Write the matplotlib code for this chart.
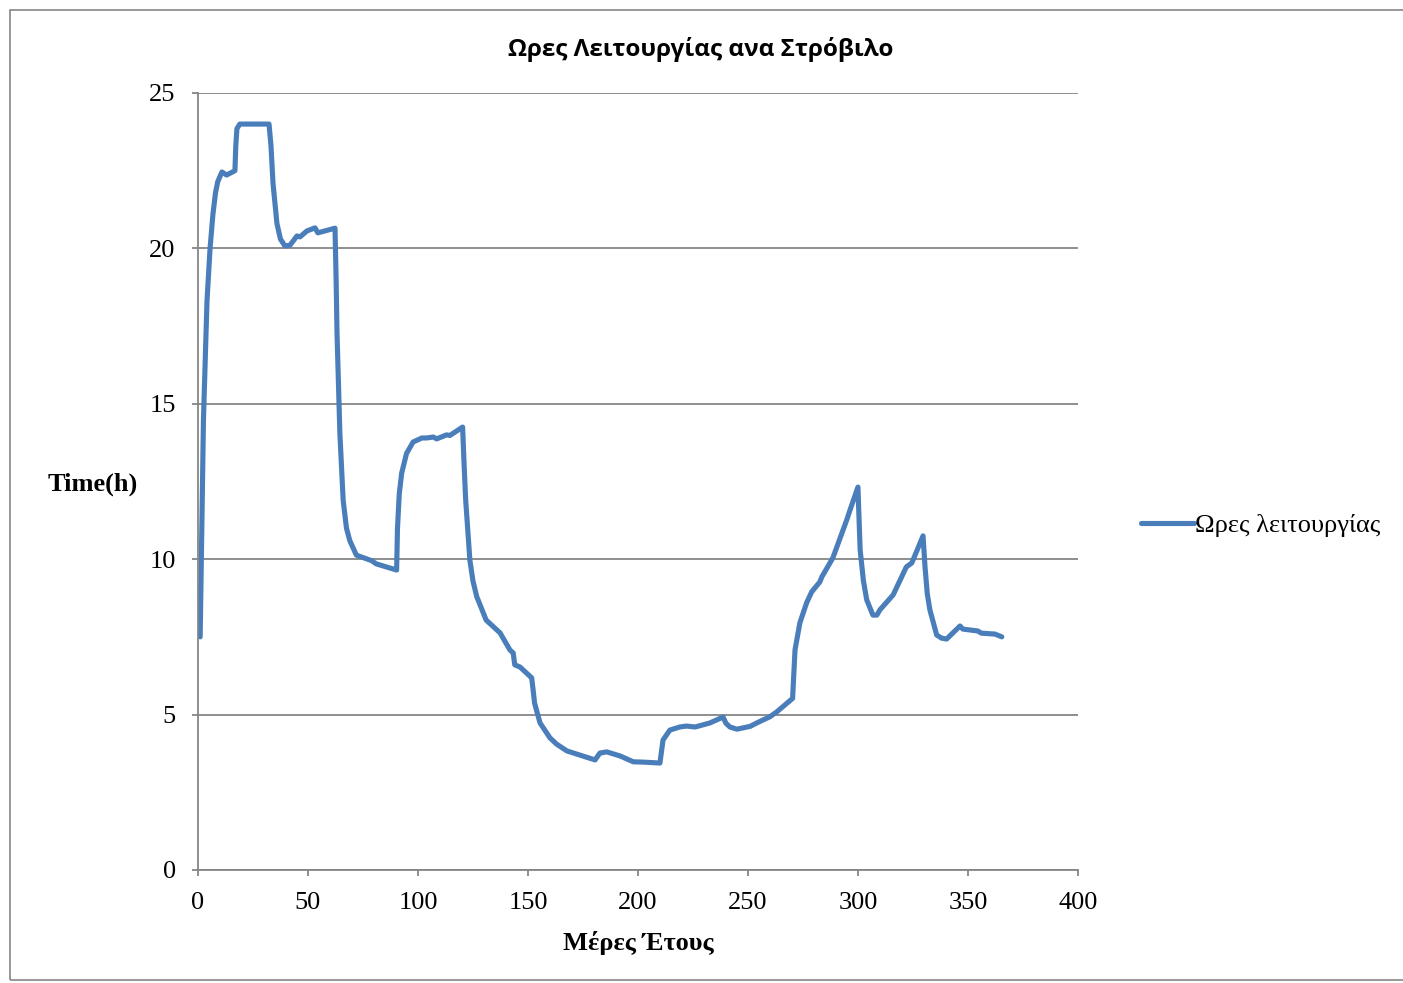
import matplotlib.pyplot as plt
from matplotlib.patches import Rectangle

# values
days = [1, 2.5, 4.1, 5.5, 6.8, 8, 9, 10.9, 13, 16.8, 17.2, 17.7, 19, 32.3, 33.2, 34.1, 35.9, 37.5, 39.5, 41.8,
        45, 46.4, 49.5, 53.2, 54.5, 62.3, 62.8, 63.2, 64.5, 66, 67.5, 69, 72, 79, 81, 90.3,
        90.7, 91.5, 92.6, 94.8, 97.8, 101.8, 104, 107, 108.5, 113, 114.5, 120.3,
        121, 121.7, 123.6, 125, 126.7, 131, 137.3, 141.8, 143.3, 144, 146.4, 151.7, 152.5, 153, 155.5,
        160, 163, 167.7, 180.5, 182.7, 185.8, 191.8, 197.9, 202.4, 210,
        211.4, 214.5, 219, 222, 226, 232.7, 238.7, 240, 241.8, 245, 251, 254, 260, 263,
        270.3, 271.4, 273.6, 276.7, 279, 282.7, 283.6, 288.6, 294.9, 296.4, 300,
        301, 302.5, 304, 306.8, 308.6, 310, 316, 322, 324.5, 329.6,
        330.5, 331.5, 332.7, 335.8, 338, 340.3, 346.4, 347.7, 354.5, 356, 362.3, 365.4]
hours = [7.5, 14.5, 18.3, 20.0, 21.1, 21.8, 22.15, 22.46, 22.36, 22.5, 23.3, 23.85, 24.0, 24.0, 23.3, 22.1, 20.8, 20.3, 20.08, 20.1,
         20.4, 20.37, 20.56, 20.66, 20.5, 20.65, 19.0, 17.3, 14.06, 11.9, 11.0, 10.6, 10.13, 9.95, 9.85, 9.65,
         11.0, 12.1, 12.77, 13.4, 13.77, 13.9, 13.9, 13.93, 13.87, 14.0, 13.98, 14.25,
         13.0, 11.9, 9.97, 9.3, 8.8, 8.04, 7.63, 7.08, 6.98, 6.6, 6.53, 6.18, 5.7, 5.37, 4.73,
         4.25, 4.05, 3.83, 3.54, 3.76, 3.8, 3.67, 3.48, 3.47, 3.44,
         4.18, 4.5, 4.6, 4.63, 4.6, 4.73, 4.92, 4.72, 4.6, 4.53, 4.62, 4.73, 4.93, 5.08,
         5.52, 7.08, 7.95, 8.6, 8.95, 9.27, 9.43, 10.04, 11.26, 11.58, 12.32,
         10.3, 9.3, 8.69, 8.2, 8.2, 8.37, 8.85, 9.75, 9.88, 10.75,
         9.75, 8.9, 8.37, 7.56, 7.46, 7.43, 7.85, 7.75, 7.69, 7.62, 7.59, 7.5]

x_ticks = [0, 50, 100, 150, 200, 250, 300, 350, 400]
y_ticks = [0, 5, 10, 15, 20, 25]

serif = "Liberation Serif"
grey = "#868686"

fig = plt.figure(figsize=(14.03, 9.83), dpi=100)
ax = fig.add_axes([0.1411, 0.115, 0.6272, 0.7904])

ax.plot(days, hours, color="#4A7EBB", linewidth=3.7, solid_joinstyle="round",
        solid_capstyle="round", label="Ωρες λειτουργίας")

ax.set_xlim(0, 400)
ax.set_ylim(0, 25)
ax.set_xticks(x_ticks)
ax.set_yticks(y_ticks)
ax.yaxis.grid(True, color=grey, linewidth=1.3)
ax.set_axisbelow(True)
for s in ["top", "right"]:
    ax.spines[s].set_visible(False)
for s in ["left", "bottom"]:
    ax.spines[s].set_color(grey)
    ax.spines[s].set_linewidth(1.3)
ax.tick_params(axis="both", colors=grey, width=1.3, length=4, labelcolor="black",
               labelsize=19)
for lab in ax.get_xticklabels() + ax.get_yticklabels():
    lab.set_fontfamily(serif)
ax.tick_params(axis="y", pad=12)
ax.tick_params(axis="x", pad=12)

ax.set_xlabel("Μέρες Έτους", fontfamily=serif, fontweight="bold", fontsize=19, labelpad=12)
ax.set_ylabel("Time(h)", fontfamily=serif, fontweight="bold", fontsize=19, rotation=0,
              va="center", ha="center")
ax.yaxis.set_label_coords(-0.12, 0.497)
fig.text(701 / 1403, 1 - 50 / 983, "Ωρες Λειτουργίας ανα Στρόβιλο", fontfamily="Open Sans",
         fontweight="bold", fontsize=17.5, ha="center", va="center")

leg = ax.legend(loc="center left", bbox_to_anchor=(1.045, 0.443), frameon=False,
                prop={"family": serif, "size": 19}, handlelength=2.0, handletextpad=0.05)

fig.patches.append(Rectangle((10 / 1403, 3 / 983), 1.1, 970 / 983, transform=fig.transFigure,
                             fill=False, edgecolor=grey, linewidth=1.2))

fig.savefig("out.png", dpi=100)
